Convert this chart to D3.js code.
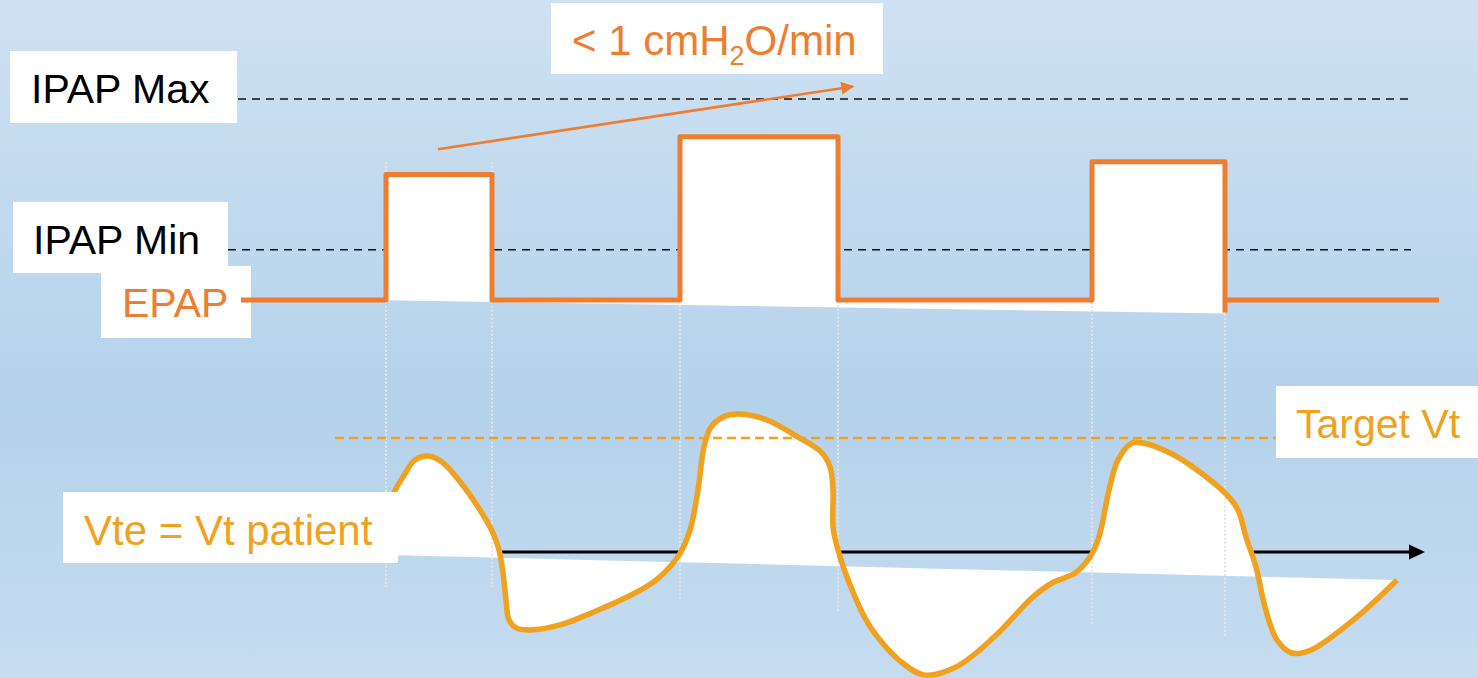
<!DOCTYPE html>
<html>
<head>
<meta charset="utf-8">
<script src="https://cdn.jsdelivr.net/npm/d3@7"></script>
<style>
    html, body { margin: 0; padding: 0; overflow: hidden; }
    svg { display: block; font-family: "Liberation Sans", Arial, sans-serif; }
</style>
</head>
<body>
<svg id="chart" width="1478" height="678"></svg>
<script>
// pressure levels, cmH2O
var levelNames = ['IPAP Max', 'IPAP Min'];
var levelValues = [12, 6];
var epapValue = 4;

// pressure trace (step), time in s / cmH2O
var pressureTimes = [2.41, 3.86, 3.86, 4.92, 4.92, 6.80, 6.80, 8.38, 8.38, 10.92, 10.92, 12.25, 12.25];
var pressureValues = [4, 4, 9, 9, 4, 4, 10.5, 10.5, 4, 4, 9.5, 9.5, 3.5];
var pressureTailTimes = [12.27, 14.39];
var pressureTailValues = [4, 4];
var pressureBaseTimes = [2.41, 12.25];
var pressureBaseValues = [4.08, 3.46];

// IPAP ramp: < 1 cmH2O/min
var rampTimes = [4.38, 8.53];
var rampValues = [10, 12.5];

// volume trace, time in s / mL
var volumeTimes = [3.86, 3.94, 4.03, 4.15, 4.28, 4.42, 4.61, 4.80, 4.93, 4.99, 5.03, 5.06, 5.09, 5.16, 5.30,
    5.60, 5.91, 6.25, 6.56, 6.79, 6.90, 6.98, 7.04, 7.11, 7.25, 7.40, 7.67, 7.98, 8.21, 8.30, 8.33, 8.33,
    8.38, 8.47, 8.66, 8.80, 8.99, 9.24, 9.56, 9.94, 10.33, 10.52, 10.75, 10.90, 10.99, 11.09, 11.18, 11.32,
    11.43, 11.70, 11.97, 12.27, 12.38, 12.46, 12.56, 12.65, 12.77, 12.92, 13.11, 13.57, 13.97];
var volumeValues = [31, 259, 329, 404, 421, 395, 303, 184, 83, 9, -92, -211, -298, -333, -342,
    -320, -268, -202, -123, -13, 96, 272, 461, 548, 596, 605, 579, 504, 439, 373, 272, 110,
    9, -110, -298, -386, -474, -539, -504, -373, -197, -136, -92, -22, 66, 272, 404, 478,
    478, 434, 360, 250, 184, 66, -66, -241, -386, -443, -430, -285, -123];
var volumeBaseTimes = [3.86, 13.97];
var volumeBaseValues = [-13, -123];
var targetVt = 500;
var targetTimes = [3.35, 12.76];
var axisTimes = [3.0, 14.25];

// trigger / cycling guides
var guideTimes = [3.86, 4.92, 6.80, 8.38, 10.92, 12.25];
var guideTops = [9.5, 9.5, 10.5, 10.5, 9.5, 9.5];
var guideBottoms = [-154, -154, -211, -263, -320, -373];

var width = 1478;
var height = 678;
var orange = '#ED7D31';
var amber = '#F0A11E';

var svg = d3.select('#chart');

var x = d3.scaleLinear().domain([0, 14.78]).range([0, width]);
var yP = d3.scaleLinear().domain([4, 12]).range([300, 99]);
var yV = d3.scaleLinear().domain([0, 500]).range([552, 438]);

// background
var defs = svg.append('defs');
var grad = defs.append('linearGradient')
    .attr('id', 'bg')
    .attr('x1', 0).attr('y1', 0).attr('x2', 0).attr('y2', 1);
grad.append('stop').attr('offset', '0%').attr('stop-color', '#CEE1F2');
grad.append('stop').attr('offset', '60%').attr('stop-color', '#B5D2EB');
grad.append('stop').attr('offset', '100%').attr('stop-color', '#C5DCF0');

defs.append('marker')
    .attr('id', 'rampHead')
    .attr('viewBox', '0 0 10 10')
    .attr('refX', 9).attr('refY', 5)
    .attr('markerWidth', 6).attr('markerHeight', 5)
    .attr('markerUnits', 'strokeWidth')
    .attr('orient', 'auto')
    .append('path')
    .attr('d', 'M0,0L10,5L0,10Z')
    .attr('fill', orange);

svg.append('rect')
    .attr('width', width)
    .attr('height', height)
    .attr('fill', 'url(#bg)');

// IPAP levels
svg.append('line')
    .attr('x1', 238).attr('x2', 1408)
    .attr('y1', yP(levelValues[0])).attr('y2', yP(levelValues[0]))
    .attr('stroke', '#111').attr('stroke-width', 1.6)
    .attr('stroke-dasharray', '8,6');
svg.append('line')
    .attr('x1', 228).attr('x2', 1411)
    .attr('y1', yP(levelValues[1])).attr('y2', yP(levelValues[1]))
    .attr('stroke', '#111').attr('stroke-width', 1.6)
    .attr('stroke-dasharray', '8,6');

var pressurePts = pressureTimes.map(function (t, i) { return [t, pressureValues[i]]; });
var pressureLine = d3.line()
    .x(function (d) { return x(d[0]); })
    .y(function (d) { return yP(d[1]); });

var pressureFill = pressurePts.concat([
    [pressureBaseTimes[1], pressureBaseValues[1]],
    [pressureBaseTimes[0], pressureBaseValues[0]]
]);
svg.append('path')
    .attr('d', pressureLine(pressureFill) + 'Z')
    .attr('fill', '#fff');

// time axis
var axisY = yV(0);
svg.append('line')
    .attr('x1', x(axisTimes[0])).attr('x2', x(axisTimes[1]) - 14)
    .attr('y1', axisY).attr('y2', axisY)
    .attr('stroke', '#000').attr('stroke-width', 3);
svg.append('path')
    .attr('d', 'M' + (x(axisTimes[1]) - 16) + ',' + (axisY - 7.5) +
        'L' + x(axisTimes[1]) + ',' + axisY +
        'L' + (x(axisTimes[1]) - 16) + ',' + (axisY + 7.5) + 'Z')
    .attr('fill', '#000');

// volume fill
var volumePts = volumeTimes.map(function (t, i) { return [t, volumeValues[i]]; });
var volumeLine = d3.line()
    .x(function (d) { return x(d[0]); })
    .y(function (d) { return yV(d[1]); })
    .curve(d3.curveCatmullRom.alpha(0.5));

svg.append('path')
    .attr('d', volumeLine(volumePts) +
        'L' + x(volumeBaseTimes[1]) + ',' + yV(volumeBaseValues[1]) +
        'L' + x(volumeBaseTimes[0]) + ',' + yV(volumeBaseValues[0]) + 'Z')
    .attr('fill', '#fff');

// dotted guides
svg.append('g')
    .selectAll('line')
    .data(guideTimes)
    .enter()
    .append('line')
    .attr('x1', function (d) { return x(d); })
    .attr('x2', function (d) { return x(d); })
    .attr('y1', function (d, i) { return yP(guideTops[i]); })
    .attr('y2', function (d, i) { return yV(guideBottoms[i]); })
    .attr('stroke', '#E2E6EC')
    .attr('stroke-width', 2)
    .attr('stroke-dasharray', '2,2');

// target Vt
svg.append('line')
    .attr('x1', x(targetTimes[0])).attr('x2', x(targetTimes[1]))
    .attr('y1', yV(targetVt)).attr('y2', yV(targetVt))
    .attr('stroke', amber).attr('stroke-width', 2.3)
    .attr('stroke-dasharray', '9,5');

// volume curve
svg.append('path')
    .attr('d', volumeLine(volumePts))
    .attr('fill', 'none')
    .attr('stroke', amber)
    .attr('stroke-width', 5.5)
    .attr('stroke-linejoin', 'round');

// ramp arrow
svg.append('line')
    .attr('x1', x(rampTimes[0])).attr('y1', yP(rampValues[0]))
    .attr('x2', x(rampTimes[1])).attr('y2', yP(rampValues[1]))
    .attr('stroke', orange)
    .attr('stroke-width', 2.6)
    .attr('marker-end', 'url(#rampHead)');

function label(bx, by, bw, bh, tx, ty, text, color) {
    svg.append('rect')
        .attr('x', bx).attr('y', by)
        .attr('width', bw).attr('height', bh)
        .attr('fill', '#fff');
    return svg.append('text')
        .attr('x', tx).attr('y', ty)
        .attr('fill', color)
        .style('font-size', '41px')
        .text(text);
}

label(10, 51, 227, 72, 31, 103, levelNames[0], '#000');
label(13, 202, 215, 71, 33, 254, levelNames[1], '#000');
label(101, 266, 150, 72, 122, 317, 'EPAP', orange);

// pressure trace
svg.append('path')
    .attr('d', pressureLine(pressurePts))
    .attr('fill', 'none')
    .attr('stroke', orange)
    .attr('stroke-width', 5)
    .attr('stroke-linejoin', 'round');
svg.append('path')
    .attr('d', pressureLine(pressureTailTimes.map(function (t, i) { return [t, pressureTailValues[i]]; })))
    .attr('fill', 'none')
    .attr('stroke', orange)
    .attr('stroke-width', 5);

// ramp label
var ramp = label(551, 3, 332, 71, 572, 55, '', orange);
ramp.style('font-size', '42px');
ramp.append('tspan').text('< 1 cmH');
ramp.append('tspan').attr('dy', 10).style('font-size', '27px').text('2');
ramp.append('tspan').attr('dy', -10).text('O/min');

label(1276, 386, 202, 72, 1296, 438, 'Target Vt', amber);
label(63, 492, 335, 71, 84, 545, 'Vte = Vt patient', amber).style('font-size', '42px');
</script>
</body>
</html>
